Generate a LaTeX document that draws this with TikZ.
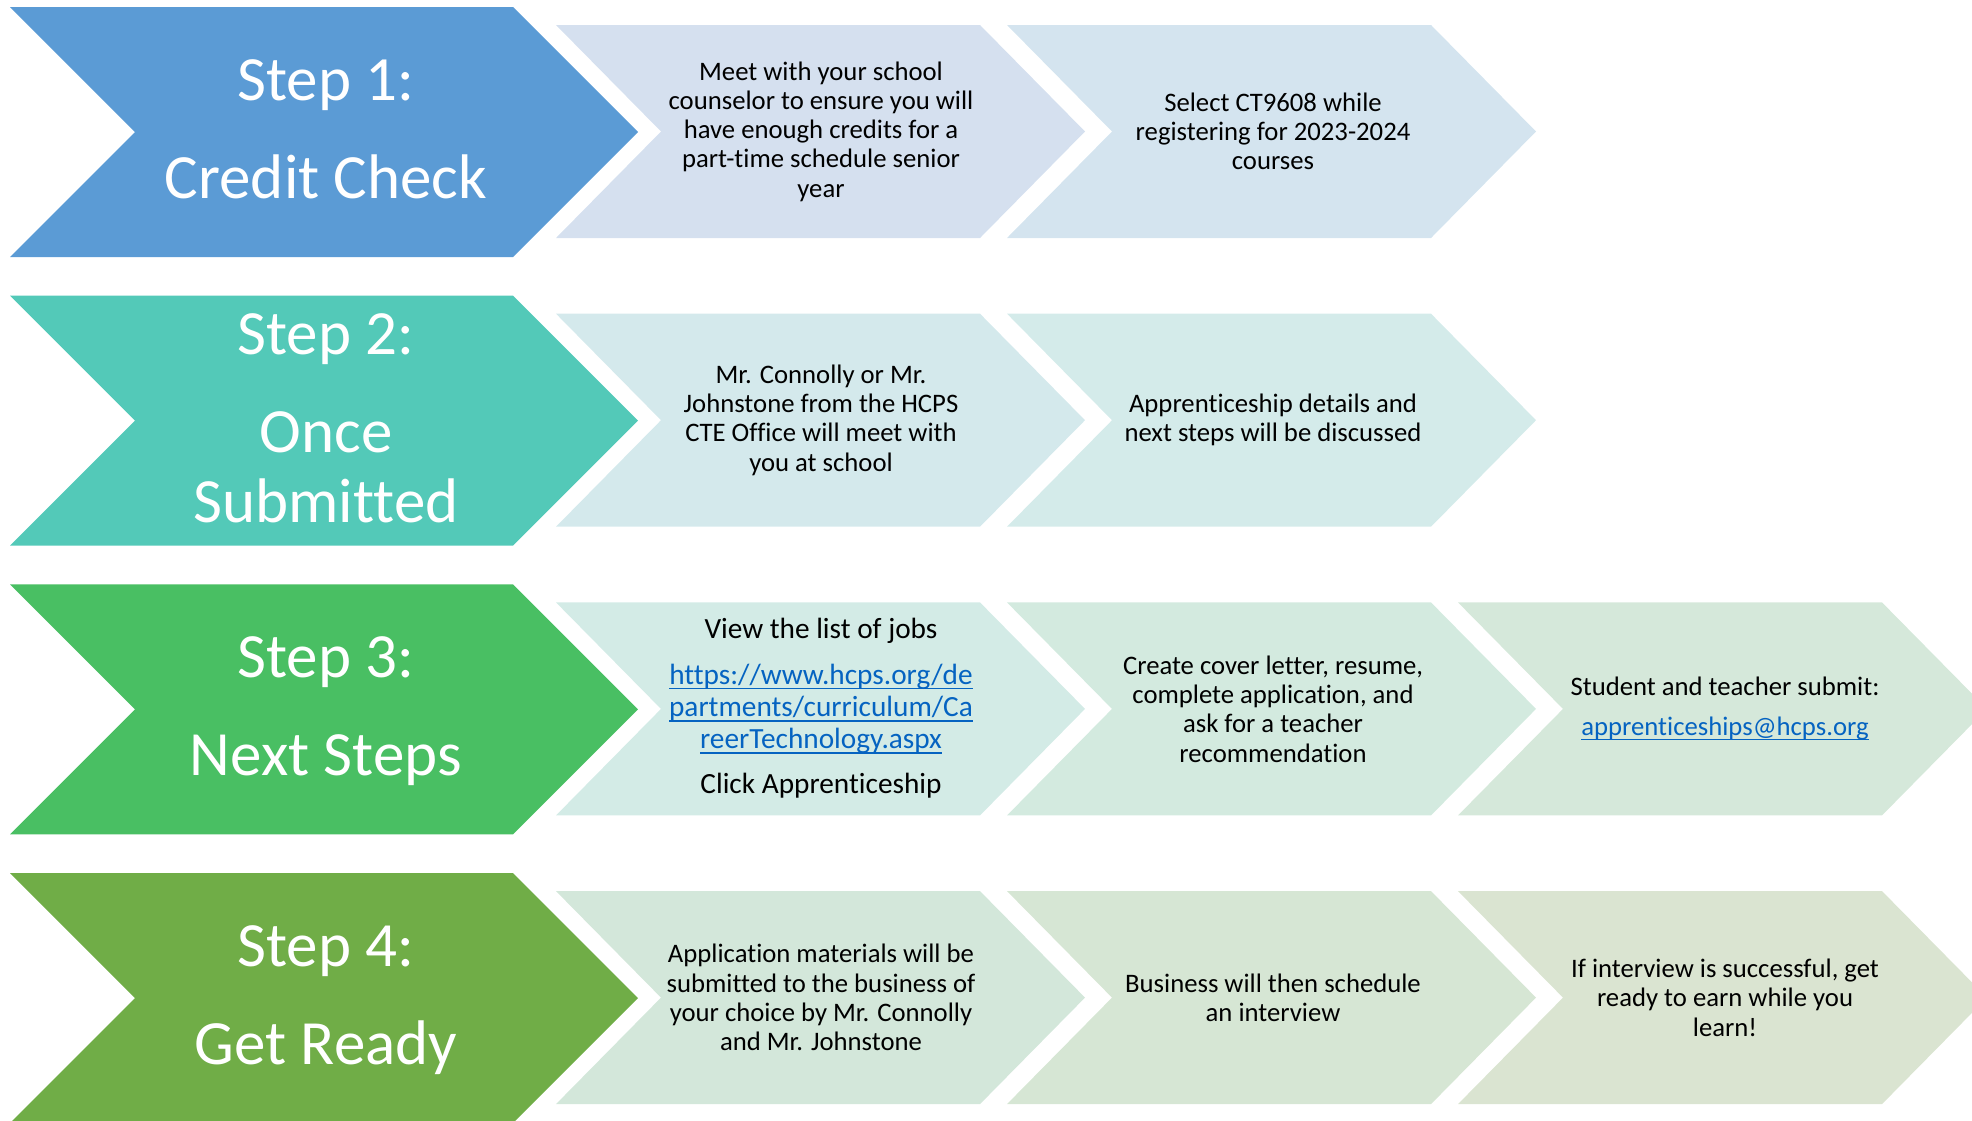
\documentclass[tikz,border=0pt]{standalone}
\usepackage{fontspec}
\setmainfont{Carlito}[Ligatures={NoCommon}]
\definecolor{bigA}{HTML}{5B9BD5}
\definecolor{bigB}{HTML}{53C9B8}
\definecolor{bigC}{HTML}{49BF63}
\definecolor{bigD}{HTML}{70AD47}
\definecolor{rAa}{HTML}{D5E0EF}
\definecolor{rAb}{HTML}{D4E4EF}
\definecolor{rBa}{HTML}{D4E9EC}
\definecolor{rBb}{HTML}{D4EBEA}
\definecolor{rCa}{HTML}{D3EBE6}
\definecolor{rCb}{HTML}{D3EADF}
\definecolor{rCc}{HTML}{D5E8DA}
\definecolor{rDa}{HTML}{D3E7DA}
\definecolor{rDb}{HTML}{D6E6D4}
\definecolor{rDc}{HTML}{DAE4D1}
\definecolor{linkblue}{HTML}{0563C1}
\newcommand\BigChev[2]{%
  \fill[#2] (10,#1) -- (513,#1) -- (638,#1+125) -- (513,#1+250) -- (10,#1+250) -- (135,#1+125) -- cycle;}
\newcommand\SmallChev[3]{%
  \fill[#3] (#1,#2+18) -- (#1+424,#2+18) -- (#1+529,#2+124.5) -- (#1+424,#2+231) -- (#1,#2+231) -- (#1+105,#2+124.5) -- cycle;}
\newcommand\lnk[1]{\textcolor{linkblue}{\setbox0\hbox{#1}\rlap{\rule[-0.17em]{\wd0}{0.06em}}\box0}}
\begin{document}
\begin{tikzpicture}[x=1pt,y=-1pt,
  bigtext/.style={text=white,font=\fontsize{63}{70}\selectfont,anchor=base,inner sep=0pt},
  smalltext/.style={text=black,font=\fontsize{26.7}{29.3}\selectfont,align=center,inner sep=0pt},
  largetext/.style={smalltext,font=\fontsize{29.3}{32.2}\selectfont}]
\useasboundingbox (0,0) rectangle (1972,1120);
\clip (0,0) rectangle (1972,1120);
% row 1
\BigChev{7}{bigA}
\SmallChev{556}{7}{rAa}
\SmallChev{1007}{7}{rAb}
% row 2
\BigChev{295.7}{bigB}
\SmallChev{556}{295.7}{rBa}
\SmallChev{1007}{295.7}{rBb}
% row 3
\BigChev{584.4}{bigC}
\SmallChev{556}{584.4}{rCa}
\SmallChev{1007}{584.4}{rCb}
\SmallChev{1458}{584.4}{rCc}
% row 4
\BigChev{873.1}{bigD}
\SmallChev{556}{873.1}{rDa}
\SmallChev{1007}{873.1}{rDb}
\SmallChev{1458}{873.1}{rDc}
% big texts
\node[bigtext] (s1a) at (326,100) {Step 1:};
\node[bigtext] (s1b) at (326,198) {Credit Check};
\node[bigtext] (s2a) at (326,354) {Step 2:};
\node[bigtext] (s2b) at (326,452) {Once};
\node[bigtext] (s2c) at (326,522) {Submitted};
\node[bigtext] (s3a) at (326,677) {Step 3:};
\node[bigtext] (s3b) at (326,775) {Next Steps};
\node[bigtext] (s4a) at (326,966) {Step 4:};
\node[bigtext] (s4b) at (326,1064) {Get Ready};
% row 1 texts
\node[smalltext] (t11) at (821,131.5) {Meet with your school\\counselor to ensure you will\\have enough credits for a\\part-time schedule senior\\year};
\node[smalltext] (t12) at (1273,131.5) {Select CT9608 while\\registering for 2023-2024\\courses};
% row 2 texts
\node[smalltext] (t21) at (821,420.2) {Mr. Connolly or Mr.\\Johnstone from the HCPS\\CTE Office will meet with\\you at school};
\node[smalltext] (t22) at (1273,420.2) {Apprenticeship details and\\next steps will be discussed};
% row 3 texts
\node[largetext] (t31a) at (821,631) {View the list of jobs};
\node[largetext] (t31b) at (821,709) {\lnk{https://www.hcps.org/de}\\\lnk{partments/curriculum/Ca}\\\lnk{reerTechnology.aspx}};
\node[largetext] (t31c) at (821,786) {Click Apprenticeship};
\node[smalltext] (t32) at (1273,708.9) {Create cover letter, resume,\\complete application, and\\ask for a teacher\\recommendation};
\node[smalltext] (t33) at (1725,708.9) {Student and teacher submit:\\[10.7pt]\lnk{apprenticeships@hcps.org}};
% row 4 texts
\node[smalltext] (t41) at (821,997.6) {Application materials will be\\submitted to the business of\\your choice by Mr. Connolly\\and Mr. Johnstone};
\node[smalltext] (t42) at (1273,997.6) {Business will then schedule\\an interview};
\node[smalltext] (t43) at (1725,997.6) {If interview is successful, get\\ready to earn while you\\learn!};
\end{tikzpicture}
\end{document}
